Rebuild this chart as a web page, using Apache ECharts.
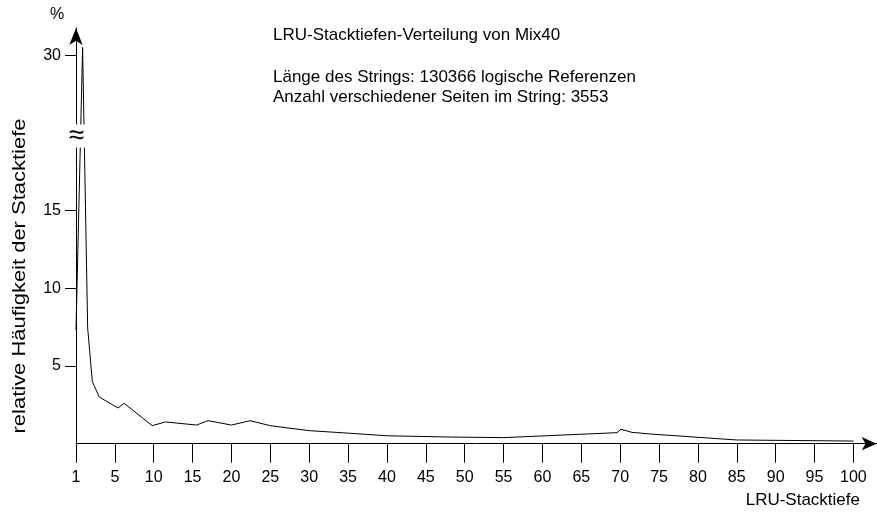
<!DOCTYPE html>
<html><head><meta charset="utf-8">
<script src="https://cdn.jsdelivr.net/npm/echarts@6/dist/echarts.min.js"></script>
<style>html,body{margin:0;padding:0;background:#fff}#c{width:877px;height:513px}</style>
</head><body><div id="c"></div>
<script>
// LRU stack depth (x position on axis; axis origin labelled "1")
const depth = [0, 0.85, 1.5, 2.1, 3.0, 5.4, 6.2, 9.8, 11.5, 15.5, 17.0, 20.0, 22.4, 25.0, 30.0, 35.3, 40.0, 48.0, 55.0, 69.6, 70.1, 71.5, 74.0, 85.0, 100.0];
// relative frequency in %
const freq = [7.3, 31.0, 7.45, 4.0, 3.0, 2.3, 2.6, 1.16, 1.4, 1.2, 1.48, 1.2, 1.48, 1.16, 0.84, 0.67, 0.51, 0.43, 0.39, 0.71, 0.93, 0.73, 0.62, 0.24, 0.17];
const xTicks = [0, 5, 10, 15, 20, 25, 30, 35, 40, 45, 50, 55, 60, 65, 70, 75, 80, 85, 90, 95, 100];
const xTickLabels = ['1', '5', '10', '15', '20', '25', '30', '35', '40', '45', '50', '55', '60', '65', '70', '75', '80', '85', '90', '95', '100'];
const yTicks = [5, 10, 15, 30];
const titleLines = ['LRU-Stacktiefen-Verteilung von Mix40', 'Länge des Strings: 130366 logische Referenzen', 'Anzahl verschiedener Seiten im String: 3553'];

// broken y scale: values above BREAK are compressed
const BREAK = 20, ABOVE = 0.5;
function toDisp(v) { return v <= BREAK ? v : BREAK + (v - BREAK) * ABOVE; }
function fromDisp(d) { return d <= BREAK ? d : BREAK + (d - BREAK) / ABOVE; }

const FONT = 'Liberation Sans, Arial, Helvetica, sans-serif';
const chart = echarts.init(document.getElementById('c'), null, { renderer: 'canvas' });
const lineColor = '#000';

chart.setOption({
  animation: false,
  backgroundColor: '#fff',
  grid: { left: 76, top: 28, right: 0.3, bottom: 69.3, containLabel: false },
  xAxis: {
    type: 'value', min: 0, max: 103.0,
    axisLine: { show: true, symbol: ['none', 'arrow'], symbolSize: [10, 15], lineStyle: { color: lineColor, width: 1 } },
    axisTick: { show: true, length: 19, customValues: xTicks, lineStyle: { color: lineColor } },
    axisLabel: {
      customValues: xTicks, margin: 26, color: '#000', fontSize: 16, fontFamily: FONT,
      formatter: function (v) { const i = xTicks.indexOf(v); return i >= 0 ? xTickLabels[i] : ''; }
    },
    splitLine: { show: false }
  },
  yAxis: {
    type: 'value', min: 0, max: 26.75,
    axisLine: { show: true, symbol: ['none', 'arrow'], symbolSize: [10, 17], lineStyle: { color: lineColor, width: 1 } },
    axisTick: { show: true, length: 11, customValues: yTicks.map(toDisp), lineStyle: { color: lineColor } },
    axisLabel: {
      customValues: yTicks.map(toDisp), margin: 15, color: '#000', fontSize: 16, fontFamily: FONT,
      formatter: function (d) { return String(Math.round(fromDisp(d))); }
    },
    splitLine: { show: false }
  },
  series: [{
    type: 'line',
    data: depth.map((d, i) => [d, toDisp(freq[i])]),
    showSymbol: false, symbol: 'none',
    lineStyle: { color: '#000', width: 1 },
    clip: false, z: 1
  }]
});

const bp = chart.convertToPixel({ gridIndex: 0 }, [0, 19.8]);
chart.setOption({
  graphic: [
    { type: 'rect', shape: { x: bp[0] - 8, y: bp[1] - 11.5, width: 18, height: 23 }, style: { fill: '#fff' }, z: 100 },
    { type: 'text', x: bp[0] + 0.5, y: bp[1], z: 101, style: { text: '≈', fontSize: 28, fontFamily: FONT, fill: '#000', align: 'center', verticalAlign: 'middle' } },
    { type: 'text', x: 57, y: 15, style: { text: '%', fontSize: 16, fontFamily: FONT, fill: '#000', align: 'center', verticalAlign: 'middle' } },
    { type: 'text', x: 20, y: 276, rotation: Math.PI / 2, scaleX: 1.22, style: { text: 'relative Häufigkeit der Stacktiefe', fontSize: 18, fontFamily: FONT, fill: '#000', align: 'center', verticalAlign: 'middle' } },
    { type: 'text', x: 860, y: 500, style: { text: 'LRU-Stacktiefe', fontSize: 17, fontFamily: FONT, fill: '#000', align: 'right', verticalAlign: 'middle' } },
    { type: 'text', x: 273, y: 35, style: { text: titleLines[0], fontSize: 17, fontFamily: FONT, fill: '#000', align: 'left', verticalAlign: 'middle' } },
    { type: 'text', x: 273, y: 77, style: { text: titleLines[1], fontSize: 17, fontFamily: FONT, fill: '#000', align: 'left', verticalAlign: 'middle' } },
    { type: 'text', x: 273, y: 97, style: { text: titleLines[2], fontSize: 17, fontFamily: FONT, fill: '#000', align: 'left', verticalAlign: 'middle' } }
  ]
});
</script>
</body></html>
